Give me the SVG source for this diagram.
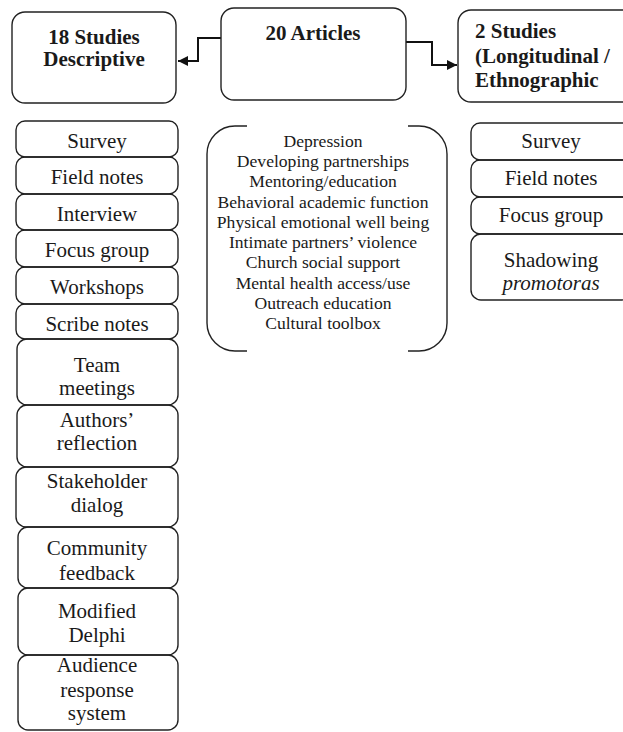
<svg xmlns="http://www.w3.org/2000/svg" width="623" height="732" viewBox="0 0 623 732">
<style>
  .box{fill:none;stroke:#222;stroke-width:1.4}
  .top{font-family:"Liberation Serif","Times New Roman",serif;font-weight:bold;font-size:21px;fill:#1a1a1a}
  .cell{font-family:"Liberation Serif","Times New Roman",serif;font-size:21px;fill:#1a1a1a;text-anchor:middle}
  .topic{font-family:"Liberation Serif","Times New Roman",serif;font-size:16px;fill:#1a1a1a;text-anchor:middle}
  .conn{fill:none;stroke:#111;stroke-width:2}
</style>
<defs>
  <marker id="arr" markerUnits="userSpaceOnUse" markerWidth="11" markerHeight="11" refX="10" refY="5" orient="auto">
    <path d="M0,0 L10,5 L0,10 Z" fill="#111"/>
  </marker>
</defs>
<rect width="623" height="732" fill="#fff"/>

<g id="connectors">
  <path class="conn" d="M221,38 H198 V61 H178" marker-end="url(#arr)"/>
  <path class="conn" d="M406,42 H432 V65 H457" marker-end="url(#arr)"/>
</g>

<g id="n18studies">
  <rect class="box" x="12" y="12" width="164" height="91" rx="13"/>
  <text class="top" x="94" y="44" text-anchor="middle">18 Studies</text>
  <text class="top" x="94" y="66" text-anchor="middle">Descriptive</text>
</g>
<g id="n20articles">
  <rect class="box" x="221" y="8" width="185" height="92" rx="13"/>
  <text class="top" x="313" y="40" text-anchor="middle">20 Articles</text>
</g>
<g id="n2studies">
  <rect class="box" x="458" y="10" width="182" height="92" rx="13"/>
  <text class="top" x="475" y="38">2 Studies</text>
  <text class="top" x="475" y="63">(Longitudinal /</text>
  <text class="top" x="475" y="87">Ethnographic</text>
</g>

<g id="left-methods">
  <g id="l-survey"><rect class="box" x="16" y="121" width="162" height="36" rx="9"/><text class="cell" x="97" y="148">Survey</text></g>
  <g id="l-fieldnotes"><rect class="box" x="16" y="157" width="162" height="37" rx="9"/><text class="cell" x="97" y="184">Field notes</text></g>
  <g id="l-interview"><rect class="box" x="16" y="194" width="162" height="36" rx="9"/><text class="cell" x="97" y="221">Interview</text></g>
  <g id="l-focus"><rect class="box" x="16" y="230" width="162" height="37" rx="9"/><text class="cell" x="97" y="257">Focus group</text></g>
  <g id="l-workshops"><rect class="box" x="16" y="267" width="162" height="37" rx="9"/><text class="cell" x="97" y="294">Workshops</text></g>
  <g id="l-scribe"><rect class="box" x="16" y="304" width="162" height="35" rx="9"/><text class="cell" x="97" y="331">Scribe notes</text></g>
  <g id="l-team"><rect class="box" x="17" y="339" width="161" height="66" rx="10"/><text class="cell" x="97" y="372">Team</text><text class="cell" x="97" y="395">meetings</text></g>
  <g id="l-authors"><rect class="box" x="17" y="405" width="161" height="62" rx="10"/><text class="cell" x="97" y="427">Authors’</text><text class="cell" x="97" y="450">reflection</text></g>
  <g id="l-stakeholder"><rect class="box" x="16" y="467" width="162" height="60" rx="10"/><text class="cell" x="97" y="488">Stakeholder</text><text class="cell" x="97" y="512">dialog</text></g>
  <g id="l-community"><rect class="box" x="18" y="527" width="160" height="61" rx="10"/><text class="cell" x="97" y="555">Community</text><text class="cell" x="97" y="580">feedback</text></g>
  <g id="l-delphi"><rect class="box" x="18" y="588" width="160" height="67" rx="10"/><text class="cell" x="97" y="618">Modified</text><text class="cell" x="97" y="642">Delphi</text></g>
  <g id="l-audience"><rect class="box" x="18" y="655" width="160" height="75" rx="10"/><text class="cell" x="97" y="672">Audience</text><text class="cell" x="97" y="697">response</text><text class="cell" x="97" y="720">system</text></g>
</g>

<g id="topics">
  <path class="box" d="M247,126 H235 A28,28 0 0 0 207,154 V323 A28,28 0 0 0 235,351 H247"/>
  <path class="box" d="M408,126 H419 A28,28 0 0 1 447,154 V323 A28,28 0 0 1 419,351 H408"/>
  <g transform="translate(323,0) scale(1.1,1)">
    <text class="topic" x="0" y="147">Depression</text>
    <text class="topic" x="0" y="167">Developing partnerships</text>
    <text class="topic" x="0" y="187">Mentoring/education</text>
    <text class="topic" x="0" y="208">Behavioral academic function</text>
    <text class="topic" x="0" y="228">Physical emotional well being</text>
    <text class="topic" x="0" y="248">Intimate partners’ violence</text>
    <text class="topic" x="0" y="268">Church social support</text>
    <text class="topic" x="0" y="289">Mental health access/use</text>
    <text class="topic" x="0" y="309">Outreach education</text>
    <text class="topic" x="0" y="329">Cultural toolbox</text>
  </g>
</g>

<g id="right-methods">
  <g id="r-survey"><rect class="box" x="471" y="123" width="160" height="37" rx="9"/><text class="cell" x="551" y="148">Survey</text></g>
  <g id="r-fieldnotes"><rect class="box" x="471" y="160" width="160" height="37" rx="9"/><text class="cell" x="551" y="185">Field notes</text></g>
  <g id="r-focus"><rect class="box" x="471" y="197" width="160" height="37" rx="9"/><text class="cell" x="551" y="222">Focus group</text></g>
  <g id="r-shadowing"><rect class="box" x="471" y="234" width="160" height="66" rx="10"/><text class="cell" x="551" y="267">Shadowing</text><text class="cell" x="551" y="290" font-style="italic">promotoras</text></g>
</g>
</svg>
